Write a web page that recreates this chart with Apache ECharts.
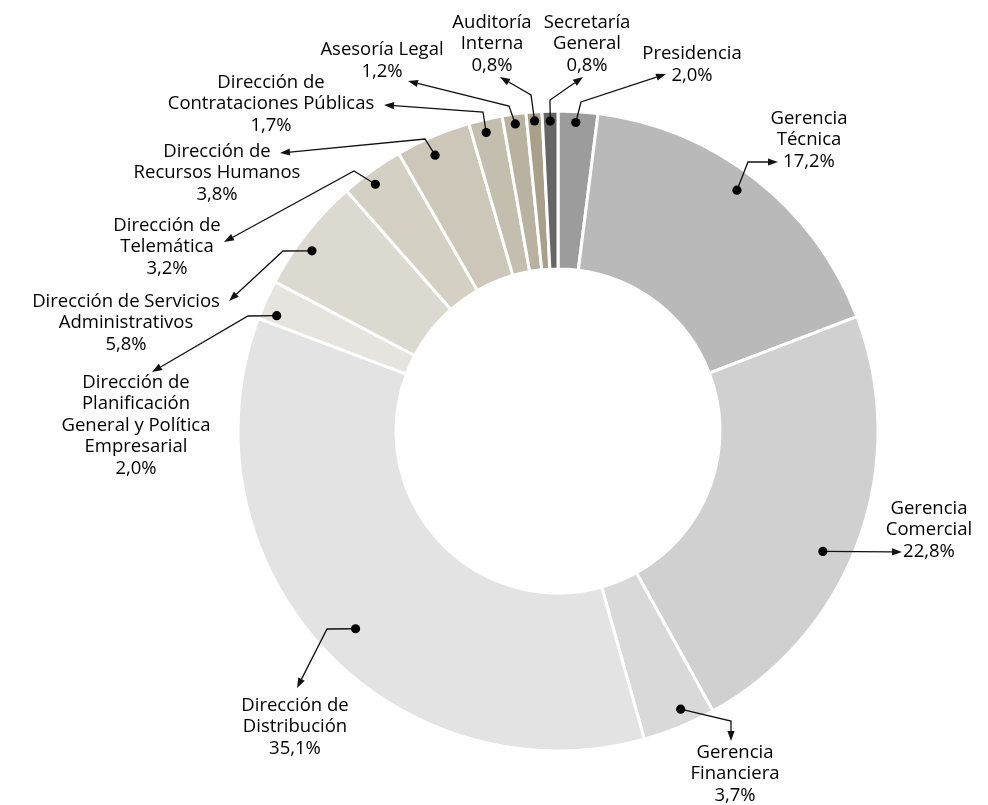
<!DOCTYPE html>
<html><head><meta charset="utf-8">
<script src="https://cdn.jsdelivr.net/npm/echarts@6/dist/echarts.min.js"></script>
<style>html,body{margin:0;padding:0;background:#fff}#c{width:988px;height:805px}</style>
</head><body><div id="c"></div>
<script>
// ---- data ----
const categories = ['Presidencia', 'Gerencia\nTécnica', 'Gerencia\nComercial', 'Gerencia\nFinanciera',
  'Dirección de\nDistribución', 'Dirección de\nPlanificación\nGeneral y Política\nEmpresarial',
  'Dirección de Servicios\nAdministrativos', 'Dirección de\nTelemática', 'Dirección de\nRecursos Humanos',
  'Dirección de\nContrataciones Públicas', 'Asesoría Legal', 'Auditoría\nInterna', 'Secretaría\nGeneral'];
const values = [2.0, 17.2, 22.8, 3.7, 35.1, 2.0, 5.8, 3.2, 3.8, 1.7, 1.2, 0.8, 0.8];

// ---- style / layout ----
const colors = ['#9c9c9c', '#b9b9b9', '#d0d0d0', '#d9d9d9', '#e3e3e3', '#e6e4df', '#dcdad0', '#d4d0c4',
  '#cdc7ba', '#c4beae', '#b9b2a0', '#a8a08a', '#666666'];
const FONT = '"Open Sans", "Noto Sans", sans-serif';
const center = [558, 431], radii = [162, 320];
const labelPos = [[692, 64.5], [809, 140], [929, 530], [735, 774], [295, 727], [136, 425.5], [126, 323],
  [167, 247], [217, 173], [271, 104], [382, 60.5], [492, 44], [587, 44]];
// angle shift (deg) from slice middle and radius of the marker dot
const dotAdj = [[-0.3, 309], [-1.5, 300], [4.4, 291], [-1.5, 304], [-1.8, 283], [-1.9, 304], [-2.0, 305],
  [-0.9, 307], [-1.0, 302], [-0.4, 307], [0, 310], [0, 311], [0, 310]];
const elbows = [[581, 102], [748, 162], null, [731, 721], [327, 629], [248, 316], [283, 251], [354, 171],
  [425, 139], [483, 112], [509, 106], [531, 95], [550, 100]];
const tips = [[666, 74], [778, 162], [902, 552], [731, 741], [297, 688], [152, 372], [229, 301], [224, 242],
  [280, 153], [384, 105], [408, 81], [500, 77], [583, 77]];

const total = values.reduce((a, b) => a + b, 0);
const graphics = [];
let cum = 0;
values.forEach((v, i) => {
  const mid = (cum + v / 2) / total * 360;
  cum += v;
  const th = (mid + dotAdj[i][0]) * Math.PI / 180, r = dotAdj[i][1];
  const dot = [center[0] + r * Math.sin(th), center[1] - r * Math.cos(th)];
  const pts = [dot];
  if (elbows[i]) pts.push(elbows[i]);
  const tip = tips[i];
  const prev = pts[pts.length - 1];
  let dx = tip[0] - prev[0], dy = tip[1] - prev[1];
  const len = Math.hypot(dx, dy); dx /= len; dy /= len;
  const L = 10, W = 3.6;
  const base = [tip[0] - L * dx, tip[1] - L * dy];
  pts.push(base);
  graphics.push({ type: 'polyline', z: 100, shape: { points: pts }, style: { stroke: '#111', lineWidth: 1.3, fill: null } });
  graphics.push({ type: 'polygon', z: 101, shape: { points: [tip, [base[0] - W * dy, base[1] + W * dx], [base[0] + W * dy, base[1] - W * dx]] }, style: { fill: '#111' } });
  graphics.push({ type: 'circle', z: 102, shape: { cx: dot[0], cy: dot[1], r: 4.6 }, style: { fill: '#000' } });
});

const chart = echarts.init(document.getElementById('c'), null, { renderer: 'canvas' });
chart.setOption({
  animation: false,
  backgroundColor: '#fff',
  graphic: graphics,
  series: [{
    type: 'pie',
    center: center,
    radius: radii,
    startAngle: 90,
    clockwise: true,
    avoidLabelOverlap: false,
    data: categories.map((n, i) => ({ name: n, value: values[i], itemStyle: { color: colors[i] } })),
    itemStyle: { borderColor: '#fff', borderWidth: 3 },
    emphasis: { disabled: true },
    label: {
      show: true, position: 'outside', color: '#000', fontFamily: FONT, fontSize: 18.5, lineHeight: 21.5,
      formatter: p => p.name + '\n' + p.value.toFixed(1).replace('.', ',') + '%'
    },
    labelLine: { show: false },
    labelLayout: p => ({ x: labelPos[p.dataIndex][0], y: labelPos[p.dataIndex][1], align: 'center', verticalAlign: 'middle' })
  }]
});
</script></body></html>
